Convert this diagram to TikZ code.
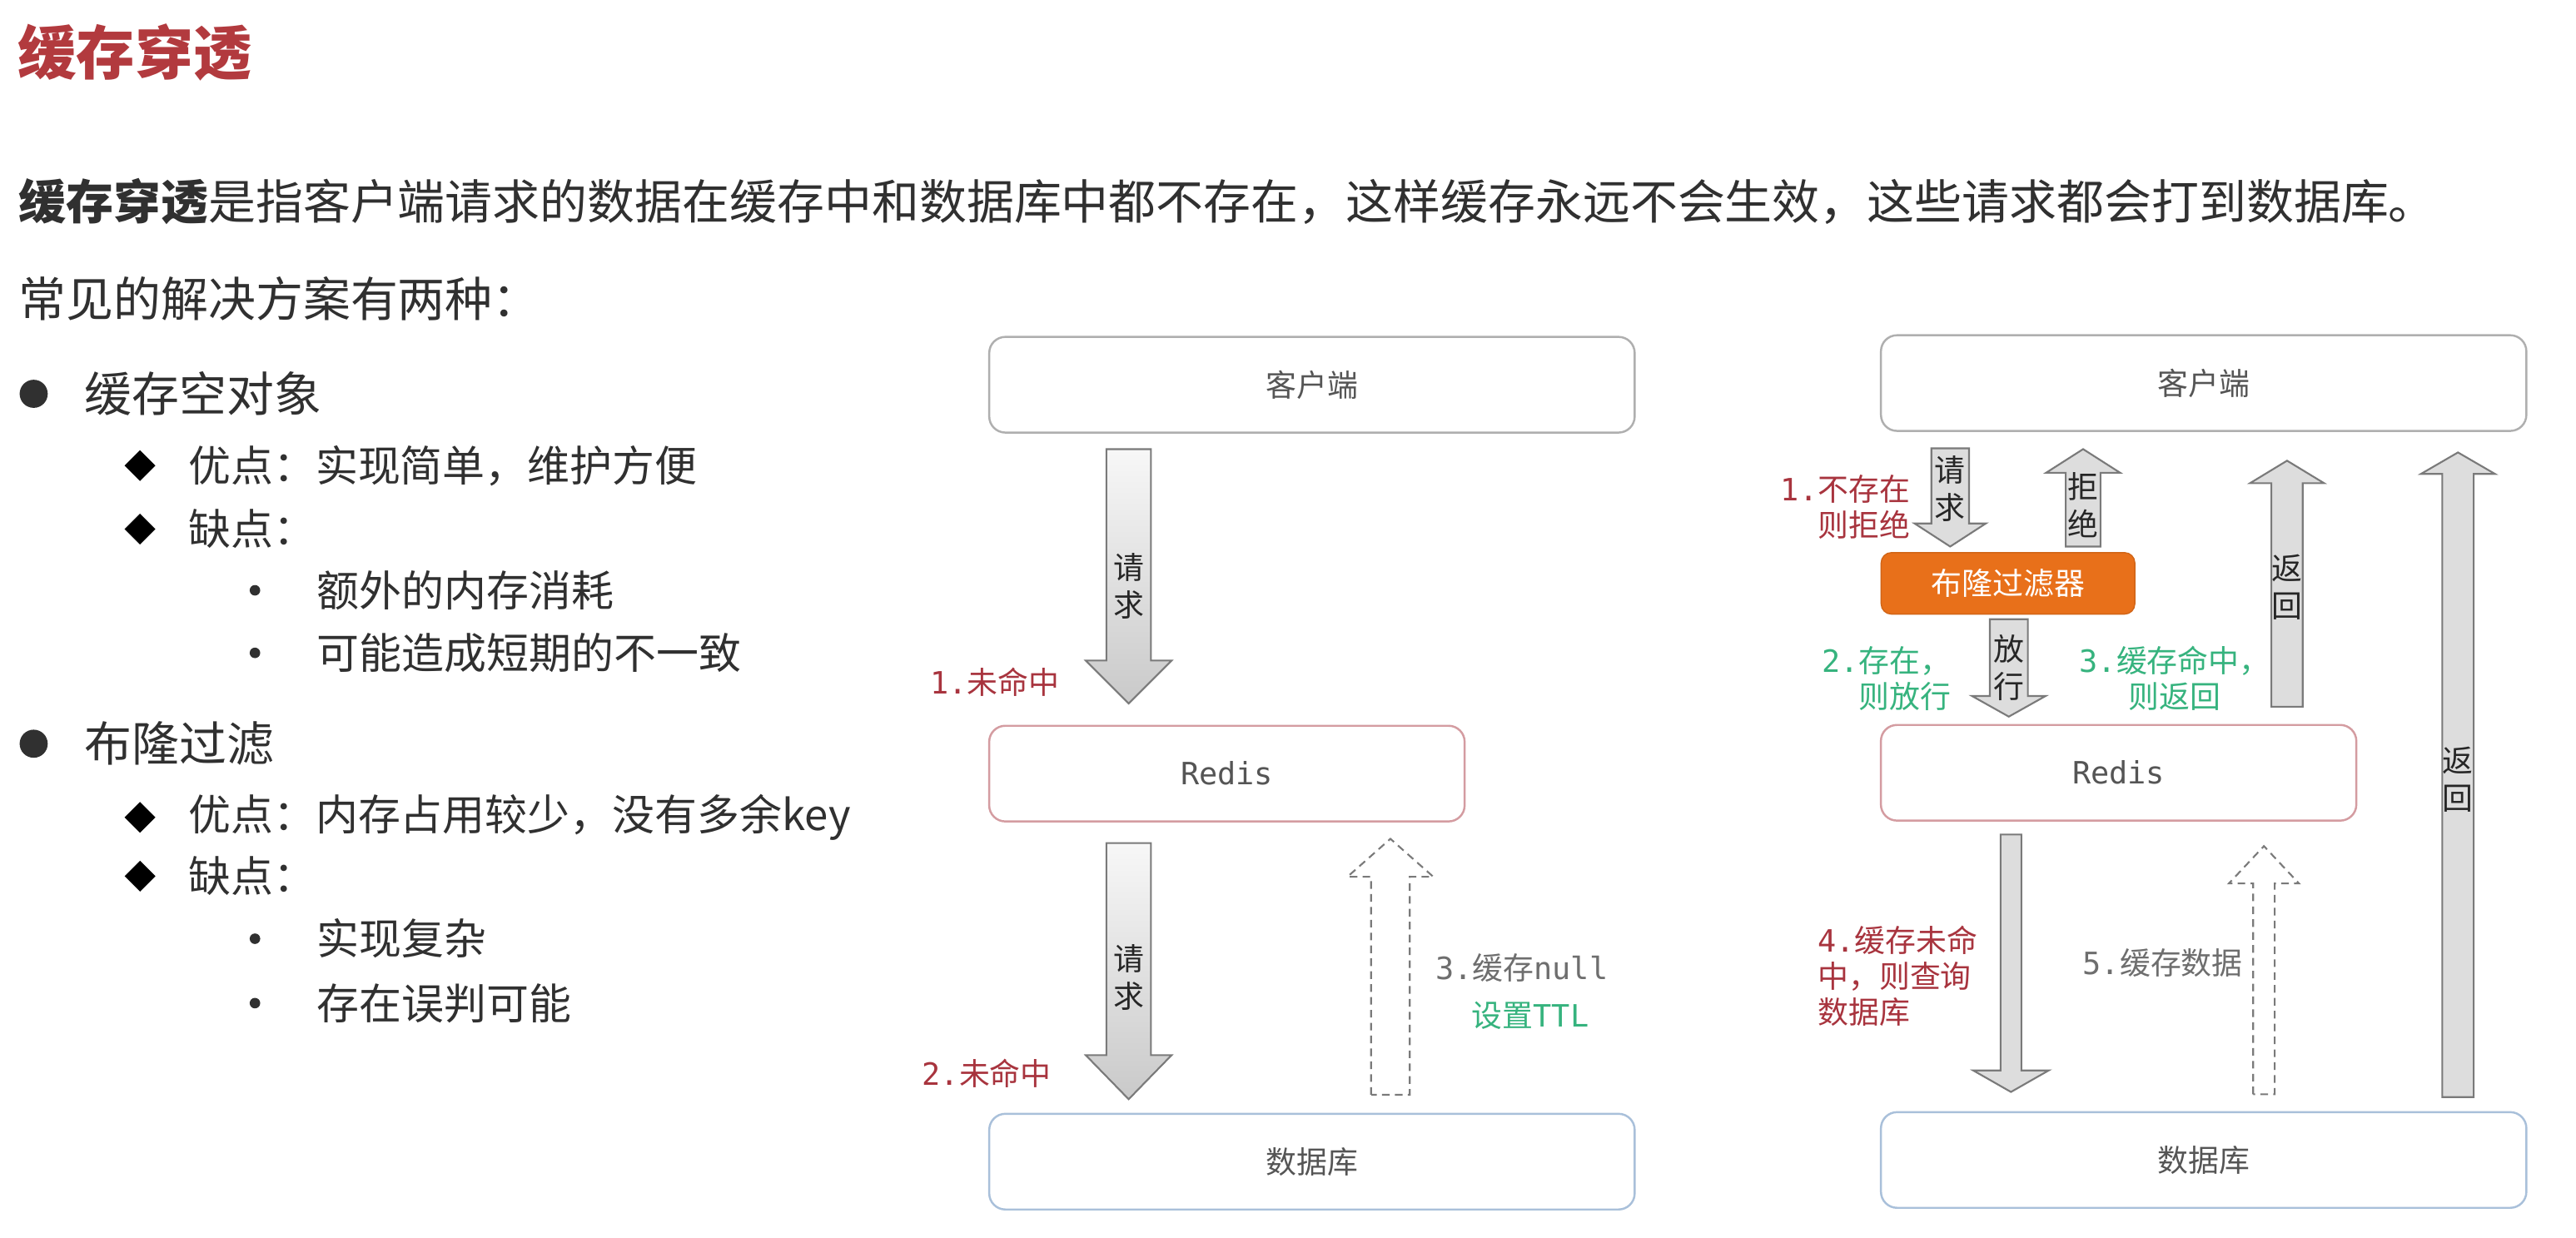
\documentclass[tikz,border=0pt]{standalone}
\usepackage{fontspec}
\setmainfont{Noto Sans CJK SC}
\setmonofont{DejaVu Sans Mono}
\usetikzlibrary{calc,shapes.geometric}

\definecolor{titlered}{HTML}{B23A3E}
\definecolor{bodytext}{HTML}{303030}
\definecolor{boxtext}{HTML}{555555}
\definecolor{lblred}{HTML}{A8343E}
\definecolor{lblgreen}{HTML}{36B37E}
\definecolor{lblgray}{HTML}{6E6E6E}
\definecolor{boxgray}{HTML}{AFAFAF}
\definecolor{boxred}{HTML}{D49CA1}
\definecolor{boxblue}{HTML}{A9C0DA}
\definecolor{bloomorange}{HTML}{E8701A}
\definecolor{arrowedge}{HTML}{7A7A7A}

\newcommand\downarr[6][]{%
\path[draw,#1] ($(#2)+(-#4,0)$) -- ($(#3)+(-#4,-#6)$) -- ($(#3)+(-#5,-#6)$) -- (#3) -- ($(#3)+(#5,-#6)$) -- ($(#3)+(#4,-#6)$) -- ($(#2)+(#4,0)$) -- cycle;}
\newcommand\uparr[6][]{%
\path[draw,#1] ($(#2)+(-#4,0)$) -- ($(#3)+(-#4,#6)$) -- ($(#3)+(-#5,#6)$) -- (#3) -- ($(#3)+(#5,#6)$) -- ($(#3)+(#4,#6)$) -- ($(#2)+(#4,0)$) -- cycle;}

\begin{document}
\begin{tikzpicture}[x=0.019833cm,y=-0.019833cm,
  every node/.style={inner sep=0pt},
  lvlone/.style={anchor=west,text=bodytext,font=\fontsize{16.2}{19}\selectfont},
  lvltwo/.style={anchor=west,text=bodytext,font=\fontsize{14.5}{17}\selectfont},
  dotone/.style={circle,fill=bodytext,minimum size=9.6pt},
  diam/.style={diamond,fill=black,minimum size=10.7pt},
  dotthree/.style={circle,fill=bodytext,minimum size=3.6pt},
  box/.style={draw,rounded corners=5.5pt,line width=0.7pt,minimum height=32.7pt,text=boxtext,font=\fontsize{10.5}{12}\selectfont},
  bloombox/.style={draw=bloomorange!90!black,fill=bloomorange,rounded corners=3.5pt,minimum width=86.7pt,minimum height=21pt,text=white,font=\fontsize{10.5}{12}\selectfont},
  fatL/.style={draw=arrowedge,line width=0.6pt,top color=gray!6,bottom color=gray!42},
  fatR/.style={draw=arrowedge,line width=0.6pt,fill=gray!27},
  hollow/.style={draw=arrowedge,line width=0.6pt,dash pattern=on 2.6pt off 1.8pt},
  arrtxt/.style={align=center,text=black!85,font=\fontsize{10.5}{12.8}\selectfont},
  redlbl/.style={text=lblred,font=\fontsize{10.5}{12.2}\selectfont},
  greenlbl/.style={text=lblgreen,font=\fontsize{10.5}{12.2}\selectfont},
  graylbl/.style={text=lblgray,font=\fontsize{10.5}{12.2}\selectfont}]

\fill[white] (0,0) rectangle (1560,749.7);
\useasboundingbox (0,0) rectangle (1560,749.7);

\node[anchor=west,text=titlered,font=\bfseries\fontsize{20}{24}\selectfont] (title) at (10.5,32) {缓存穿透};
\node[lvlone] (intro) at (11,122) {\textbf{缓存穿透}是指客户端请求的数据在缓存中和数据库中都不存在，这样缓存永远不会生效，这些请求都会打到数据库。};
\node[lvlone] (kinds) at (11,181) {常见的解决方案有两种：};

\node[dotone] (b1) at (20.4,238.5) {};
\node[lvlone] (null) at (51,238.5) {缓存空对象};
\node[diam] (d1) at (84.8,282) {};
\node[lvltwo] (nullpro) at (113.7,282) {优点：实现简单，维护方便};
\node[diam] (d2) at (84.8,320.4) {};
\node[lvltwo] (nullcon) at (113.7,320.4) {缺点：};
\node[dotthree] (s1) at (154.4,357.5) {};
\node[lvltwo] (con1) at (191.7,357.5) {额外的内存消耗};
\node[dotthree] (s2) at (154.4,395.4) {};
\node[lvltwo] (con2) at (191.7,395.4) {可能造成短期的不一致};

\node[dotone] (b2) at (20.4,450.4) {};
\node[lvlone] (bloom) at (51,450.4) {布隆过滤};
\node[diam] (d3) at (84.8,495) {};
\node[lvltwo] (bloompro) at (113.7,495) {优点：内存占用较少，没有多余key};
\node[diam] (d4) at (84.8,530.6) {};
\node[lvltwo] (bloomcon) at (113.7,530.6) {缺点：};
\node[dotthree] (s3) at (154.4,568.5) {};
\node[lvltwo] (con3) at (191.7,568.5) {实现复杂};
\node[dotthree] (s4) at (154.4,607.5) {};
\node[lvltwo] (con4) at (191.7,607.5) {存在误判可能};

\node[box,draw=boxgray,minimum width=220.6pt] (cliL) at (794.5,233) {客户端};
\node[box,draw=boxred,minimum width=162.5pt] (redL) at (743,468.5) {\ttfamily Redis};
\node[box,draw=boxblue,minimum width=220.6pt] (dbL) at (794.5,703.5) {数据库};

\coordinate (qL1s) at (683.5,272);
\coordinate (qL1e) at (683.5,426);
\coordinate (qL2s) at (683.5,510.6);
\coordinate (qL2e) at (683.5,665.7);
\coordinate (setL) at (842,663);
\coordinate (setLe) at (842,508);
\downarr[fatL]{qL1s}{qL1e}{13.5}{26}{26}
\downarr[fatL]{qL2s}{qL2e}{13.5}{26}{26.7}
\uparr[hollow]{setL}{setLe}{11.7}{26}{23}
\node[arrtxt] (qL1t) at (683.5,355) {请\\求};
\node[arrtxt] (qL2t) at (683.5,592) {请\\求};
\node[redlbl,anchor=east] (miss1) at (642,413) {{\ttfamily 1.}未命中};
\node[redlbl,anchor=east] (miss2) at (637,650) {{\ttfamily 2.}未命中};
\node[graylbl,anchor=west] (setnull) at (869,586.4) {{\ttfamily 3.}缓存{\ttfamily null}};
\node[greenlbl,anchor=west] (setttl) at (891,615) {设置{\ttfamily TTL}};

\node[box,draw=boxgray,minimum width=220.6pt] (cliR) at (1334.5,232) {客户端};
\node[bloombox] (filt) at (1216,353.3) {布隆过滤器};
\node[box,draw=boxred,minimum width=162.5pt] (redR) at (1283,468) {\ttfamily Redis};
\node[box,draw=boxblue,minimum width=220.6pt] (dbR) at (1334.5,702.5) {数据库};

\coordinate (qRs) at (1181,271.5);
\coordinate (qRe) at (1181,331);
\coordinate (rejs) at (1261.5,331);
\coordinate (reje) at (1261.5,272);
\coordinate (pass) at (1216.5,375);
\coordinate (passe) at (1216.5,434);
\coordinate (hits) at (1385,428);
\coordinate (hite) at (1385,279);
\coordinate (dbret) at (1488.5,664.4);
\coordinate (dbrete) at (1488.5,274);
\coordinate (misss) at (1217.8,505.4);
\coordinate (misse) at (1217.8,661.3);
\coordinate (fill) at (1371,662.7);
\coordinate (fille) at (1371,512.4);
\downarr[fatR]{qRs}{qRe}{11.4}{21.6}{14}
\uparr[fatR]{rejs}{reje}{10.5}{22.4}{14.3}
\downarr[fatR]{pass}{passe}{11.5}{22.3}{12.5}
\uparr[fatR]{hits}{hite}{9.5}{22.4}{13.6}
\uparr[fatR]{dbret}{dbrete}{9.5}{22.4}{13}
\downarr[fatR]{misss}{misse}{6.3}{22.8}{13}
\uparr[hollow]{fill}{fille}{6.5}{21.2}{22.6}

\node[arrtxt] (qRt) at (1181,296) {请\\求};
\node[arrtxt] (rejt) at (1261.5,306) {拒\\绝};
\node[arrtxt] (passt) at (1216.5,404.5) {放\\行};
\node[arrtxt] (hitt) at (1385,355.5) {返\\回};
\node[arrtxt] (dbrett) at (1488.5,472) {返\\回};

\node[redlbl,anchor=east,align=right] (nofound) at (1157,307) {{\ttfamily 1.}不存在\\则拒绝};
\node[greenlbl,anchor=east,align=right] (found) at (1182,410.8) {{\ttfamily 2.}存在，\\则放行};
\node[greenlbl,align=center] (hitlbl) at (1317,410.7) {{\ttfamily 3.}缓存命中，\\则返回};
\node[redlbl,anchor=west,align=left] (misslbl) at (1100.5,591) {{\ttfamily 4.}缓存未命\\中，则查询\\数据库};
\node[graylbl,anchor=west] (filllbl) at (1261,583.2) {{\ttfamily 5.}缓存数据};
\end{tikzpicture}
\end{document}
